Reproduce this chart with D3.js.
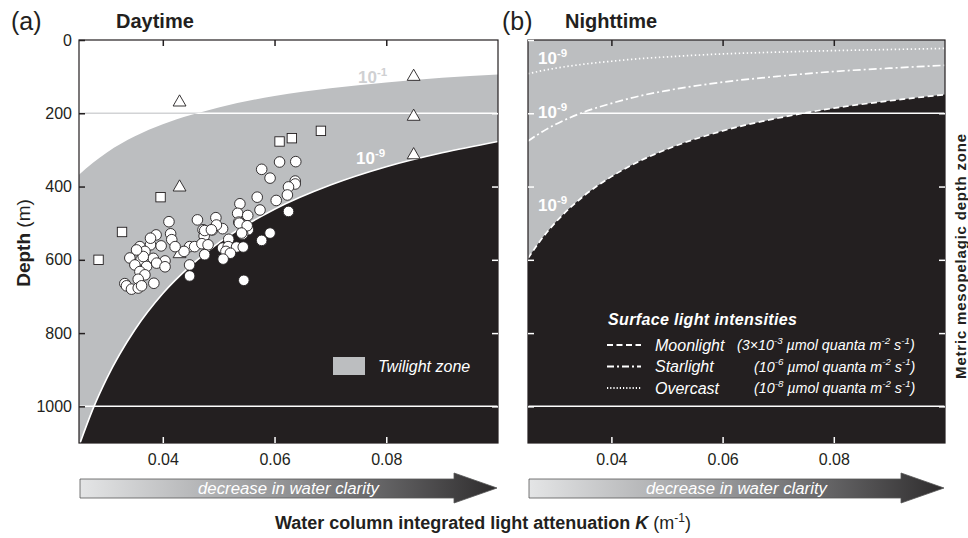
<!DOCTYPE html>
<html>
<head>
<meta charset="utf-8">
<script src="https://cdn.jsdelivr.net/npm/d3@7"></script>
<style>
  body { margin: 0; background: #fff; }
  svg text { font-family: Arial, "Liberation Sans", Helvetica, sans-serif; }
</style>
</head>
<body>
<svg id="chart" width="968" height="538"></svg>
<script>
// light attenuation K grid used for the isolume curves
var kGrid = [0.025, 0.0275, 0.03, 0.035, 0.04, 0.045, 0.05, 0.06, 0.07, 0.08, 0.09, 0.1];
// daytime isolumes (m)
var dayIso1 = [368, 335, 307, 263, 230, 205, 184, 153, 132, 116, 103, 94];      // 10^-1
var dayIso9 = [1108, 1007, 923, 791, 692, 616, 554, 462, 396, 346, 308, 277];  // 10^-9
// nighttime 10^-9 isolumes for each surface light level (m)
var moonIso = [596, 542, 497, 426, 373, 331, 298, 248, 213, 186, 166, 149];
var starIso = [276, 251, 230, 197, 173, 153, 138, 115, 99, 86, 77, 69];
var overIso = [92, 84, 77, 66, 58, 51, 46, 38, 33, 29, 26, 23];

// observations, panel a
var circleK = [0.0577, 0.0609, 0.0638, 0.0592, 0.0637, 0.0637, 0.0625, 0.0623, 0.0569, 0.0603,
  0.0538, 0.0534, 0.0574, 0.0552, 0.0625, 0.0495, 0.0536, 0.0507, 0.0489, 0.0472,
  0.0553, 0.0543, 0.0592, 0.0577, 0.0518, 0.0462, 0.0411, 0.0474, 0.0388, 0.0414,
  0.0416, 0.0359, 0.0378, 0.0397, 0.0368, 0.0341, 0.0361, 0.0383, 0.0404, 0.0350,
  0.0371, 0.0389, 0.0404, 0.0359, 0.0368, 0.0356, 0.0384, 0.0332, 0.0335, 0.0344,
  0.0356, 0.0362, 0.0448, 0.0457, 0.0470, 0.0481, 0.0448, 0.0448, 0.0475, 0.0507,
  0.0517, 0.0532, 0.0544, 0.0513, 0.0521, 0.0508, 0.0545, 0.0365, 0.0496, 0.0475,
  0.0487, 0.0537, 0.0551, 0.0541, 0.0438, 0.0422, 0.0378, 0.0353];
var circleDepth = [353, 333, 332, 377, 385, 393, 401, 423, 429, 438,
  447, 473, 464, 479, 468, 485, 497, 515, 518, 518,
  518, 530, 527, 547, 544, 491, 496, 535, 532, 529,
  545, 564, 559, 562, 577, 595, 600, 596, 603, 614,
  618, 609, 619, 632, 641, 653, 664, 665, 671, 680,
  677, 671, 564, 564, 556, 559, 614, 644, 586, 568,
  564, 565, 565, 577, 582, 598, 656, 591, 505, 520,
  518, 500, 507, 527, 577, 564, 541, 573];
var squareK = [0.0396, 0.0327, 0.0285, 0.0609, 0.0631, 0.0683];
var squareDepth = [429, 524, 600, 277, 268, 248];
var triangleK = [0.0430, 0.0430, 0.0430, 0.0849, 0.0849, 0.0849];
var triangleDepth = [170, 402, 584, 100, 209, 314];

var xTicks = [0.04, 0.06, 0.08];
var yTicks = [0, 200, 400, 600, 800, 1000];
var zoneLines = [200, 1000];

var legendRows = [
  { name: "Moonlight", unit: [["(3×10"], ["-3", 1], [" µmol quanta m"], ["-2", 1], [" s"], ["-1", 1], [")"]], dash: "6,3.5", ux: 737 },
  { name: "Starlight", unit: [["(10"], ["-6", 1], [" µmol quanta m"], ["-2", 1], [" s"], ["-1", 1], [")"]], dash: "7,3,2,3", ux: 754 },
  { name: "Overcast", unit: [["(10"], ["-8", 1], [" µmol quanta m"], ["-2", 1], [" s"], ["-1", 1], [")"]], dash: "1.2,2", ux: 754 }
];

var GRAY = "#bcbec0", BLACK = "#231f20";
var svg = d3.select("#chart");
var top0 = 40, bot0 = 443;
var panels = [
  { id: "a", left: 79, right: 498, tag: 11, title: "Daytime" },
  { id: "b", left: 528, right: 945, tag: 502, title: "Nighttime" }
];

var defs = svg.append("defs");
var grad = defs.append("linearGradient").attr("id", "arrowGrad");
grad.append("stop").attr("offset", "0%").attr("stop-color", "#e4e5e6");
grad.append("stop").attr("offset", "45%").attr("stop-color", "#9a9b9d");
grad.append("stop").attr("offset", "100%").attr("stop-color", "#2e2c2d");

// text with superscripts
function rich(g, x, y, parts, size) {
  var t = g.append("text").attr("x", x).attr("y", y).style("font-size", size + "px");
  var shift = 0;
  parts.forEach(function(p) {
    var target = p[1] ? -size * 0.42 : 0;
    var ts = t.append("tspan").text(p[0]).attr("dy", target - shift);
    if (p[1]) ts.style("font-size", (size * 0.68) + "px");
    shift = target;
  });
  return t;
}

function pts(depths) { return kGrid.map(function(k, i) { return [k, depths[i]]; }); }

panels.forEach(function(P) {
  var x = d3.scaleLinear().domain([0.025, 0.1]).range([P.left, P.right]);
  var y = d3.scaleLinear().domain([0, 1100]).range([top0, bot0]);
  var g = svg.append("g");

  defs.append("clipPath").attr("id", "clip" + P.id).append("rect")
    .attr("x", P.left).attr("y", top0).attr("width", P.right - P.left).attr("height", bot0 - top0);
  var plot = g.append("g").attr("clip-path", "url(#clip" + P.id + ")");

  var line = d3.line().x(function(d) { return x(d[0]); }).y(function(d) { return y(d[1]); }).curve(d3.curveMonotoneX);
  var areaBelow = d3.area().x(function(d) { return x(d[0]); }).y0(bot0 + 5).y1(function(d) { return y(d[1]); }).curve(d3.curveMonotoneX);
  var areaAbove = d3.area().x(function(d) { return x(d[0]); }).y0(top0 - 5).y1(function(d) { return y(d[1]); }).curve(d3.curveMonotoneX);

  if (P.id == "a") {
    plot.append("rect").attr("x", P.left).attr("y", top0).attr("width", P.right - P.left).attr("height", bot0 - top0).attr("fill", "#fff");
    plot.append("path").attr("d", areaBelow(pts(dayIso1))).attr("fill", GRAY);
    plot.append("path").attr("d", areaBelow(pts(dayIso9))).attr("fill", BLACK);
    plot.append("path").attr("d", line(pts(dayIso9))).attr("fill", "none").attr("stroke", "#fff").attr("stroke-width", 1.6);
    zoneLines.forEach(function(z) {
      plot.append("line").attr("x1", P.left).attr("x2", P.right).attr("y1", y(z)).attr("y2", y(z))
        .attr("stroke", "#fff").attr("stroke-width", 1.5);
    });
    // 200 m line shows grey where it crosses the sunlit white water
    defs.append("clipPath").attr("id", "clipSun").append("path").attr("d", areaAbove(pts(dayIso1)));
    plot.append("line").attr("clip-path", "url(#clipSun)").attr("x1", P.left).attr("x2", P.right)
      .attr("y1", y(200)).attr("y2", y(200)).attr("stroke", "#d2d3d5").attr("stroke-width", 1.5);

    // observations
    plot.selectAll(".sq").data(squareK).enter().append("rect")
      .attr("x", function(d) { return x(d) - 4.7; })
      .attr("y", function(d, i) { return y(squareDepth[i]) - 4.7; })
      .attr("width", 9.4).attr("height", 9.4)
      .attr("fill", "#fff").attr("stroke", BLACK).attr("stroke-width", 0.9);
    plot.selectAll(".tri").data(triangleK).enter().append("path")
      .attr("d", d3.symbol().type(d3.symbolTriangle).size(72))
      .attr("transform", function(d, i) { return "translate(" + x(d) + "," + y(triangleDepth[i]) + ")"; })
      .attr("fill", "#fff").attr("stroke", BLACK).attr("stroke-width", 0.9);
    plot.selectAll(".dot").data(circleK).enter().append("circle")
      .attr("cx", function(d) { return x(d); })
      .attr("cy", function(d, i) { return y(circleDepth[i]); })
      .attr("r", 5.3)
      .attr("fill", "#fff").attr("stroke", BLACK).attr("stroke-width", 0.9);

    rich(g, 358, 83, [["10"], ["-1", 1]], 17).style("font-weight", "bold").attr("fill", "#cfd0d2");
    rich(g, 356, 164, [["10"], ["-9", 1]], 17).style("font-weight", "bold").attr("fill", "#fff");

    // twilight legend
    g.append("rect").attr("x", 333).attr("y", 357).attr("width", 32).attr("height", 18).attr("fill", GRAY);
    g.append("text").attr("x", 378).attr("y", 371.5).style("font-size", "16px").style("font-style", "italic")
      .attr("fill", "#fff").text("Twilight zone");
  } else {
    plot.append("rect").attr("x", P.left).attr("y", top0).attr("width", P.right - P.left).attr("height", bot0 - top0).attr("fill", GRAY);
    plot.append("path").attr("d", areaBelow(pts(moonIso))).attr("fill", BLACK);
    defs.append("clipPath").attr("id", "clipStar").append("path").attr("d", areaBelow(pts(starIso)));
    plot.append("line").attr("clip-path", "url(#clipStar)").attr("x1", P.left).attr("x2", P.right)
      .attr("y1", y(200)).attr("y2", y(200)).attr("stroke", "#fff").attr("stroke-width", 1.5);
    plot.append("line").attr("x1", P.left).attr("x2", P.right).attr("y1", y(1000)).attr("y2", y(1000))
      .attr("stroke", "#fff").attr("stroke-width", 1.5);
    [[moonIso, "6,3.5"], [starIso, "8,3,2,3"], [overIso, "1.4,2.6"]].forEach(function(c) {
      plot.append("path").attr("d", line(pts(c[0]))).attr("fill", "none").attr("stroke", "#fff")
        .attr("stroke-width", 1.7).attr("stroke-dasharray", c[1]);
    });
    [64, 118, 211].forEach(function(ly) {
      rich(g, 538, ly, [["10"], ["-9", 1]], 17).style("font-weight", "bold").attr("fill", "#fff");
    });

    // light legend
    g.append("text").attr("x", 608).attr("y", 324.5).style("font-size", "16px").style("font-weight", "bold")
      .style("font-style", "italic").style("letter-spacing", "0.35px").attr("fill", "#fff").text("Surface light intensities");
    legendRows.forEach(function(r, i) {
      var ry = 345 + i * 21.5;
      g.append("line").attr("x1", 607).attr("x2", 641).attr("y1", ry).attr("y2", ry)
        .attr("stroke", "#fff").attr("stroke-width", 1.8).attr("stroke-dasharray", r.dash);
      g.append("text").attr("x", 655).attr("y", ry + 5.5).style("font-size", "16px").style("font-style", "italic")
        .attr("fill", "#fff").text(r.name);
      rich(g, r.ux, ry + 5, r.unit, 14.3).style("font-style", "italic").attr("fill", "#fff");
    });
  }

  // frame
  g.append("rect").attr("x", P.left).attr("y", top0).attr("width", P.right - P.left).attr("height", bot0 - top0)
    .attr("fill", "none").attr("stroke", BLACK).attr("stroke-width", 1.2);

  // inward ticks
  var axTop = g.append("g").attr("transform", "translate(0," + top0 + ")")
    .call(d3.axisTop(x).tickValues(xTicks).tickSize(-6).tickFormat(""));
  axTop.selectAll("line").attr("stroke", BLACK).attr("stroke-width", 1.5);
  var axBot = g.append("g").attr("transform", "translate(0," + bot0 + ")")
    .call(d3.axisBottom(x).tickValues(xTicks).tickSize(-6).tickPadding(11).tickFormat(d3.format(".2f")));
  axBot.selectAll("line").attr("stroke", "#fff").attr("stroke-width", 1.5);
  axBot.selectAll("text").style("font-size", "16px").attr("fill", BLACK);
  var axRight = g.append("g").attr("transform", "translate(" + P.right + ",0)")
    .call(d3.axisRight(y).tickValues(yTicks.slice(1)).tickSize(-6).tickFormat(""));
  axRight.selectAll("line").attr("stroke", "#fff").attr("stroke-width", 1.5);
  var axLeft = g.append("g").attr("transform", "translate(" + P.left + ",0)")
    .call(d3.axisLeft(y).tickValues(yTicks).tickSize(-6).tickPadding(7)
      .tickFormat(P.id == "a" ? d3.format("d") : ""));
  axLeft.selectAll("line").attr("stroke", P.id == "a" ? BLACK : "#fff").attr("stroke-width", 1.5);
  axLeft.selectAll("text").style("font-size", "16px").attr("fill", BLACK);
  g.selectAll(".domain").remove();

  // clarity arrow
  var aw = P.right - P.left, hx = P.right - 44;
  g.append("path")
    .attr("d", "M" + (P.left + 1) + ",479 L" + hx + ",479 L" + hx + ",473 L" + (P.right - 1) + ",488 L" + hx + ",503 L" + hx + ",498 L" + (P.left + 1) + ",498 Z")
    .attr("fill", "url(#arrowGrad)").attr("stroke", "#555").attr("stroke-width", 0.8);
  g.append("text").attr("x", P.left + aw * 0.5).attr("y", 494).attr("text-anchor", "middle")
    .style("font-size", "16.8px").style("font-style", "italic").attr("fill", "#fff").text("decrease in water clarity");

  // panel titles
  g.append("text").attr("x", P.tag).attr("y", 30).style("font-size", "25px").attr("fill", BLACK).text("(" + P.id + ")");
  g.append("text").attr("x", P.left + 37).attr("y", 28).style("font-size", "20px")
    .style("font-weight", "bold").attr("fill", BLACK).text(P.title);
});

// axis titles
var yt = svg.append("text").attr("transform", "translate(30,243) rotate(-90)").attr("text-anchor", "middle")
  .style("font-size", "19px").attr("fill", BLACK);
yt.append("tspan").style("font-weight", "bold").text("Depth");
yt.append("tspan").text(" (m)");

var xt = svg.append("text").attr("x", 483).attr("y", 529).attr("text-anchor", "middle")
  .style("font-size", "18px").attr("fill", BLACK);
xt.append("tspan").style("font-weight", "bold").text("Water column integrated light attenuation ");
xt.append("tspan").style("font-weight", "bold").style("font-style", "italic").text("K");
xt.append("tspan").text(" (m");
xt.append("tspan").attr("dy", -7).style("font-size", "12px").text("-1");
xt.append("tspan").attr("dy", 7).text(")");

svg.append("text").attr("transform", "translate(966,256) rotate(-90)").attr("text-anchor", "middle")
  .style("font-size", "15px").style("font-weight", "bold").style("letter-spacing", "0.8px")
  .attr("fill", BLACK).text("Metric mesopelagic depth zone");
</script>
</body>
</html>
